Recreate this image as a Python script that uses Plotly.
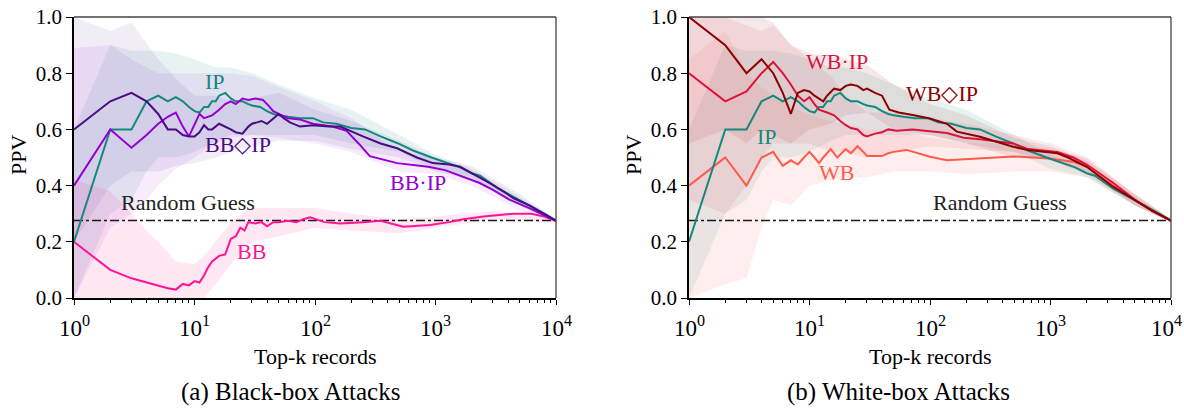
import math
import plotly.graph_objects as go

# ---------------- data ----------------
random_guess = 0.276

k_ip = [1,2,3,4,5,6,7,8,9,10,11,12,13,14,15,16,18,20,22,25,28,30,35,40,45,50,60,75,96,117,150,200,260,350,490,650,930,1240,1600,2000,2340,3300,4450,6000,8000,10000]
ppv_ip = [0.20,0.60,0.60,0.70,0.72,0.70,0.715,0.70,0.68,0.665,0.66,0.68,0.68,0.70,0.70,0.72,0.73,0.71,0.70,0.70,0.69,0.685,0.68,0.665,0.655,0.65,0.645,0.64,0.64,0.625,0.62,0.605,0.60,0.575,0.55,0.525,0.50,0.48,0.465,0.444,0.435,0.39,0.36,0.33,0.30,0.275]

k_bbd = [1,2,3,4,5,6,7,8,9,10,11,12,13,14,16,18,20,22,25,28,30,33,36,40,45,50,55,62,75,96,130,162,250,350,480,700,950,1300,1600,2000,2680,3500,4450,6000,8000,10000]
ppv_bbd = [0.60,0.70,0.73,0.70,0.655,0.60,0.60,0.58,0.575,0.575,0.59,0.615,0.60,0.60,0.62,0.61,0.60,0.59,0.585,0.61,0.62,0.625,0.63,0.62,0.64,0.655,0.64,0.625,0.61,0.615,0.61,0.61,0.575,0.55,0.533,0.50,0.48,0.475,0.467,0.445,0.414,0.385,0.355,0.33,0.30,0.275]

k_bbp = [1,2,3,4,5,6,7,8,9,10,11,12,14,16,18,20,22,25,28,32,37,42,45,50,60,75,96,140,183,230,285,480,870,1200,1700,2300,3000,4100,6000,8000,10000]
ppv_bbp = [0.40,0.60,0.535,0.58,0.62,0.645,0.66,0.61,0.575,0.62,0.655,0.64,0.65,0.67,0.69,0.70,0.69,0.71,0.705,0.71,0.705,0.68,0.665,0.655,0.64,0.635,0.62,0.61,0.595,0.55,0.505,0.48,0.467,0.455,0.43,0.41,0.385,0.35,0.32,0.295,0.275]

k_bb = [1,2,3,4,5,6,7,8,9,10,11,12,13,14,16,18,20,22,24,26,28,32,36,40,45,50,60,70,80,91,120,162,250,350,540,900,1300,1700,2500,4450,6200,8000,10000]
ppv_bb = [0.20,0.10,0.07,0.055,0.045,0.035,0.03,0.05,0.045,0.06,0.055,0.08,0.11,0.13,0.15,0.155,0.21,0.22,0.25,0.24,0.27,0.265,0.27,0.255,0.27,0.27,0.275,0.27,0.28,0.287,0.27,0.265,0.27,0.275,0.254,0.26,0.27,0.28,0.29,0.30,0.30,0.29,0.275]

k_wbd = [1,2,3,4,5,6,7,8,9,10,11,12,13,14,16,18,20,22,25,28,30,35,40,46,50,55,72,100,138,167,260,490,650,1140,1400,2000,3300,5000,7000,10000]
ppv_wbd = [1.00,0.90,0.80,0.85,0.80,0.73,0.655,0.73,0.74,0.735,0.72,0.71,0.70,0.72,0.745,0.74,0.755,0.76,0.755,0.74,0.745,0.73,0.72,0.67,0.665,0.66,0.651,0.639,0.62,0.592,0.574,0.538,0.527,0.515,0.50,0.467,0.396,0.35,0.31,0.275]

k_wbp = [1,2,3,4,5,6,7,8,9,10,11,12,14,16,18,20,22,25,28,30,35,40,45,53,72,100,138,190,260,490,650,1140,1550,2000,3300,5000,7000,10000]
ppv_wbp = [0.80,0.70,0.735,0.80,0.84,0.80,0.76,0.72,0.70,0.715,0.69,0.67,0.66,0.65,0.63,0.615,0.605,0.60,0.58,0.575,0.585,0.59,0.60,0.595,0.60,0.594,0.587,0.57,0.565,0.55,0.53,0.52,0.50,0.475,0.41,0.35,0.31,0.275]

k_wb = [1,2,3,4,5,6,7,8,9,10,11,12,13,15,17,20,22,25,28,30,35,40,45,50,64,100,138,260,490,930,1550,2000,3300,5000,7000,10000]
ppv_wb = [0.40,0.50,0.40,0.50,0.52,0.47,0.49,0.475,0.50,0.52,0.50,0.48,0.50,0.53,0.50,0.53,0.515,0.54,0.52,0.505,0.505,0.505,0.515,0.52,0.527,0.503,0.49,0.497,0.504,0.497,0.485,0.467,0.40,0.35,0.31,0.275]

# confidence bands (lower / upper)
kb_ip = [1,2,3,4,5,7,10,15,20,30,50,100,200,500,1000,2000,5000,10000]
lo_ip = [0.00,0.30,0.35,0.45,0.50,0.50,0.52,0.56,0.58,0.58,0.58,0.58,0.55,0.52,0.46,0.43,0.33,0.27]
hi_ip = [0.60,0.90,0.88,0.88,0.88,0.87,0.85,0.82,0.82,0.80,0.76,0.71,0.67,0.58,0.51,0.46,0.36,0.28]

kb_bbd = [1,2,3,5,7,10,15,20,30,50,100,200,500,1000,2000,5000,10000]
lo_bbd = [0.20,0.40,0.45,0.45,0.47,0.48,0.50,0.52,0.54,0.56,0.56,0.53,0.50,0.45,0.42,0.33,0.27]
hi_bbd = [1.00,0.95,0.98,0.85,0.78,0.72,0.72,0.70,0.71,0.73,0.67,0.63,0.56,0.50,0.47,0.37,0.28]

kb_bbp = [1,2,3,4,5,7,10,15,20,30,50,100,200,500,1000,2000,5000,10000]
lo_bbp = [0.00,0.25,0.30,0.35,0.40,0.46,0.50,0.55,0.57,0.58,0.57,0.55,0.52,0.45,0.44,0.40,0.31,0.27]
hi_bbp = [0.89,0.90,0.85,0.82,0.80,0.80,0.80,0.80,0.80,0.79,0.75,0.70,0.64,0.52,0.50,0.44,0.35,0.28]

kb_bb = [1,2,3,4,5,7,10,12,15,20,25,30,50,100,200,500,1000,3000,10000]
lo_bb = [0.00,0.00,0.00,0.00,0.00,0.00,0.00,0.00,0.05,0.12,0.17,0.20,0.22,0.25,0.24,0.23,0.25,0.28,0.27]
hi_bb = [0.42,0.38,0.30,0.24,0.20,0.13,0.12,0.15,0.20,0.27,0.30,0.32,0.32,0.32,0.30,0.28,0.29,0.31,0.28]

kb_w = [1,2,3,4,5,7,10,15,20,30,50,100,200,500,1000,2000,5000,10000]
lo_wbd = [0.55,0.60,0.55,0.60,0.58,0.55,0.60,0.62,0.65,0.66,0.60,0.58,0.55,0.50,0.49,0.44,0.33,0.27]
hi_wbd = [1.00,1.00,1.00,1.00,0.98,0.90,0.87,0.86,0.85,0.83,0.76,0.69,0.65,0.57,0.54,0.49,0.37,0.28]
lo_wbp = [0.35,0.30,0.40,0.50,0.55,0.55,0.55,0.52,0.52,0.50,0.52,0.54,0.53,0.52,0.49,0.45,0.33,0.27]
hi_wbp = [1.00,1.00,0.97,0.95,0.97,0.90,0.85,0.79,0.72,0.66,0.66,0.64,0.62,0.58,0.55,0.50,0.37,0.28]
lo_wb = [0.00,0.05,0.07,0.25,0.35,0.33,0.40,0.42,0.43,0.43,0.45,0.45,0.44,0.45,0.45,0.43,0.33,0.27]
hi_wb = [0.85,0.95,0.80,0.75,0.72,0.68,0.65,0.63,0.62,0.60,0.60,0.57,0.55,0.55,0.53,0.50,0.37,0.28]

x_ticks = [1, 10, 100, 1000, 10000]
x_ticktext = ["10<sup>0</sup>", "10<sup>1</sup>", "10<sup>2</sup>", "10<sup>3</sup>", "10<sup>4</sup>"]
y_ticks = [0.0, 0.2, 0.4, 0.6, 0.8, 1.0]

# ---------------- styles ----------------
C_IP = "#13887d"
C_BBD = "#4b0a86"
C_BBP = "#9400d3"
C_BB = "#ff1493"
C_WBP = "#dc143c"
C_WBD = "#8b0000"
C_WB = "#ff5a4a"
FONT = "Liberation Serif"


def rgba(hexc, a):
    h = hexc.lstrip("#")
    r, g, b = int(h[0:2], 16), int(h[2:4], 16), int(h[4:6], 16)
    return f"rgba({r},{g},{b},{a})"


fig = go.Figure()


def add_band(k, lo, hi, color, xa, ya, alpha=0.1):
    fig.add_trace(go.Scatter(
        x=list(k) + list(k)[::-1], y=list(hi) + list(lo)[::-1],
        fill="toself", fillcolor=rgba(color, alpha), line=dict(width=0),
        mode="lines", hoverinfo="skip", xaxis=xa, yaxis=ya, showlegend=False))


def add_line(k, v, color, xa, ya):
    fig.add_trace(go.Scatter(x=k, y=v, mode="lines", line=dict(color=color, width=2),
                             xaxis=xa, yaxis=ya, showlegend=False))


def add_rg(xa, ya):
    fig.add_trace(go.Scatter(x=[x_ticks[0], x_ticks[-1]], y=[random_guess, random_guess],
                             mode="lines", line=dict(color="#1a1a1a", width=1.6, dash="dashdot"),
                             xaxis=xa, yaxis=ya, showlegend=False))


# left panel
add_band(kb_ip, lo_ip, hi_ip, C_IP, "x", "y")
add_band(kb_bbd, lo_bbd, hi_bbd, C_BBD, "x", "y", 0.08)
add_band(kb_bbp, lo_bbp, hi_bbp, C_BBP, "x", "y", 0.08)
add_band(kb_bb, lo_bb, hi_bb, C_BB, "x", "y")
add_rg("x", "y")
add_line(k_bb, ppv_bb, C_BB, "x", "y")
add_line(k_ip, ppv_ip, C_IP, "x", "y")
add_line(k_bbp, ppv_bbp, C_BBP, "x", "y")
add_line(k_bbd, ppv_bbd, C_BBD, "x", "y")

# right panel
add_band(kb_ip, lo_ip, hi_ip, C_IP, "x2", "y2")
add_band(kb_w, lo_wbd, hi_wbd, C_WBD, "x2", "y2", 0.09)
add_band(kb_w, lo_wbp, hi_wbp, C_WBP, "x2", "y2", 0.09)
add_band(kb_w, lo_wb, hi_wb, C_WB, "x2", "y2", 0.1)
add_rg("x2", "y2")
add_line(k_wb, ppv_wb, C_WB, "x2", "y2")
add_line(k_ip, ppv_ip, C_IP, "x2", "y2")
add_line(k_wbp, ppv_wbp, C_WBP, "x2", "y2")
add_line(k_wbd, ppv_wbd, C_WBD, "x2", "y2")

minor_vals = [m * 10 ** e for e in range(4) for m in range(2, 10)]

W, H = 1184, 409
top_px, bot_px = 17, 298
ydom = [1 - bot_px / H, 1 - top_px / H]
dom_l = [74 / W, 556 / W]
dom_r = [689 / W, 1171 / W]

xcommon = dict(type="log", range=[0, 4], tickvals=x_ticks, showticklabels=False, automargin=False,
               ticks="outside", ticklen=5, tickwidth=1.2, tickcolor="black",
               showline=True, linecolor="black", linewidth=1.5, showgrid=False, zeroline=False,
               minor=dict(tickvals=minor_vals, ticks="outside", ticklen=3, tickcolor="black", tickwidth=1))
ycommon = dict(range=[0, 1], tickvals=y_ticks, ticktext=[f"{v:.1f}" for v in y_ticks], automargin=False,
               ticks="outside", ticklen=6, tickwidth=1.2, tickcolor="black",
               showline=True, linecolor="black", linewidth=1.5, showgrid=False, zeroline=False,
               tickfont=dict(family=FONT, size=21, color="black"))

fig.update_layout(
    width=W, height=H, margin=dict(l=0, r=0, t=0, b=0, autoexpand=False),
    paper_bgcolor="white", plot_bgcolor="white", showlegend=False,
    xaxis=dict(domain=dom_l, anchor="y", **xcommon),
    yaxis=dict(domain=ydom, anchor="x", **ycommon),
    xaxis2=dict(domain=dom_r, anchor="y2", **xcommon),
    yaxis2=dict(domain=ydom, anchor="x2", **ycommon),
)

# top / right spines
for xd in (dom_l, dom_r):
    fig.add_shape(type="line", xref="paper", yref="paper", x0=xd[0], x1=xd[1], y0=ydom[1], y1=ydom[1],
                  line=dict(color="#444", width=1.3))
    fig.add_shape(type="line", xref="paper", yref="paper", x0=xd[1], x1=xd[1], y0=ydom[0], y1=ydom[1],
                  line=dict(color="#444", width=1.3))

# x tick labels (drawn as text so the last one is not dropped at the page edge)
for xr in ("x", "x2"):
    for t, tt in zip(x_ticks, x_ticktext):
        shift = -5 if (xr == "x2" and t == x_ticks[-1]) else 0
        fig.add_annotation(text=tt, x=math.log10(t), xref=xr, y=1 - 326 / H, yref="paper",
                           xanchor="center", yanchor="middle", showarrow=False, xshift=shift,
                           font=dict(family=FONT, size=23, color="black"))


def label(text, k, v, color, xr, yr, size=22):
    fig.add_annotation(text=text, x=math.log10(k), y=v, xref=xr, yref=yr, showarrow=False,
                       xanchor="center", yanchor="middle",
                       font=dict(family=FONT, size=size, color=color))


label("IP", 14.8, 0.77, C_IP, "x", "y")
label("BB\u25c7IP", 23, 0.545, C_BBD, "x", "y")
label("BB\u00b7IP", 710, 0.41, C_BBP, "x", "y")
label("Random Guess", 8.8, 0.34, "#222", "x", "y")
label("BB", 30, 0.165, C_BB, "x", "y")

label("WB\u00b7IP", 16.9, 0.84, C_WBP, "x2", "y2")
label("WB\u25c7IP", 126, 0.727, C_WBD, "x2", "y2")
label("IP", 4.4, 0.573, C_IP, "x2", "y2")
label("WB", 16.9, 0.445, C_WB, "x2", "y2")
label("Random Guess", 380, 0.34, "#222", "x2", "y2")


def ptext(text, px, py, size, angle=0):
    fig.add_annotation(text=text, x=px / W, y=1 - py / H, xref="paper", yref="paper",
                       xanchor="center", yanchor="middle", textangle=angle, showarrow=False,
                       font=dict(family=FONT, size=size, color="black"))


ptext("Top-k records", 315, 356, 22)
ptext("Top-k records", 930, 356, 22)
ptext("PPV", 18, 155, 22, -90)
ptext("PPV", 633, 155, 22, -90)
ptext("(a) Black-box Attacks", 290, 392, 25)
ptext("(b) White-box Attacks", 898, 392, 25)

fig.write_html("out.html")
